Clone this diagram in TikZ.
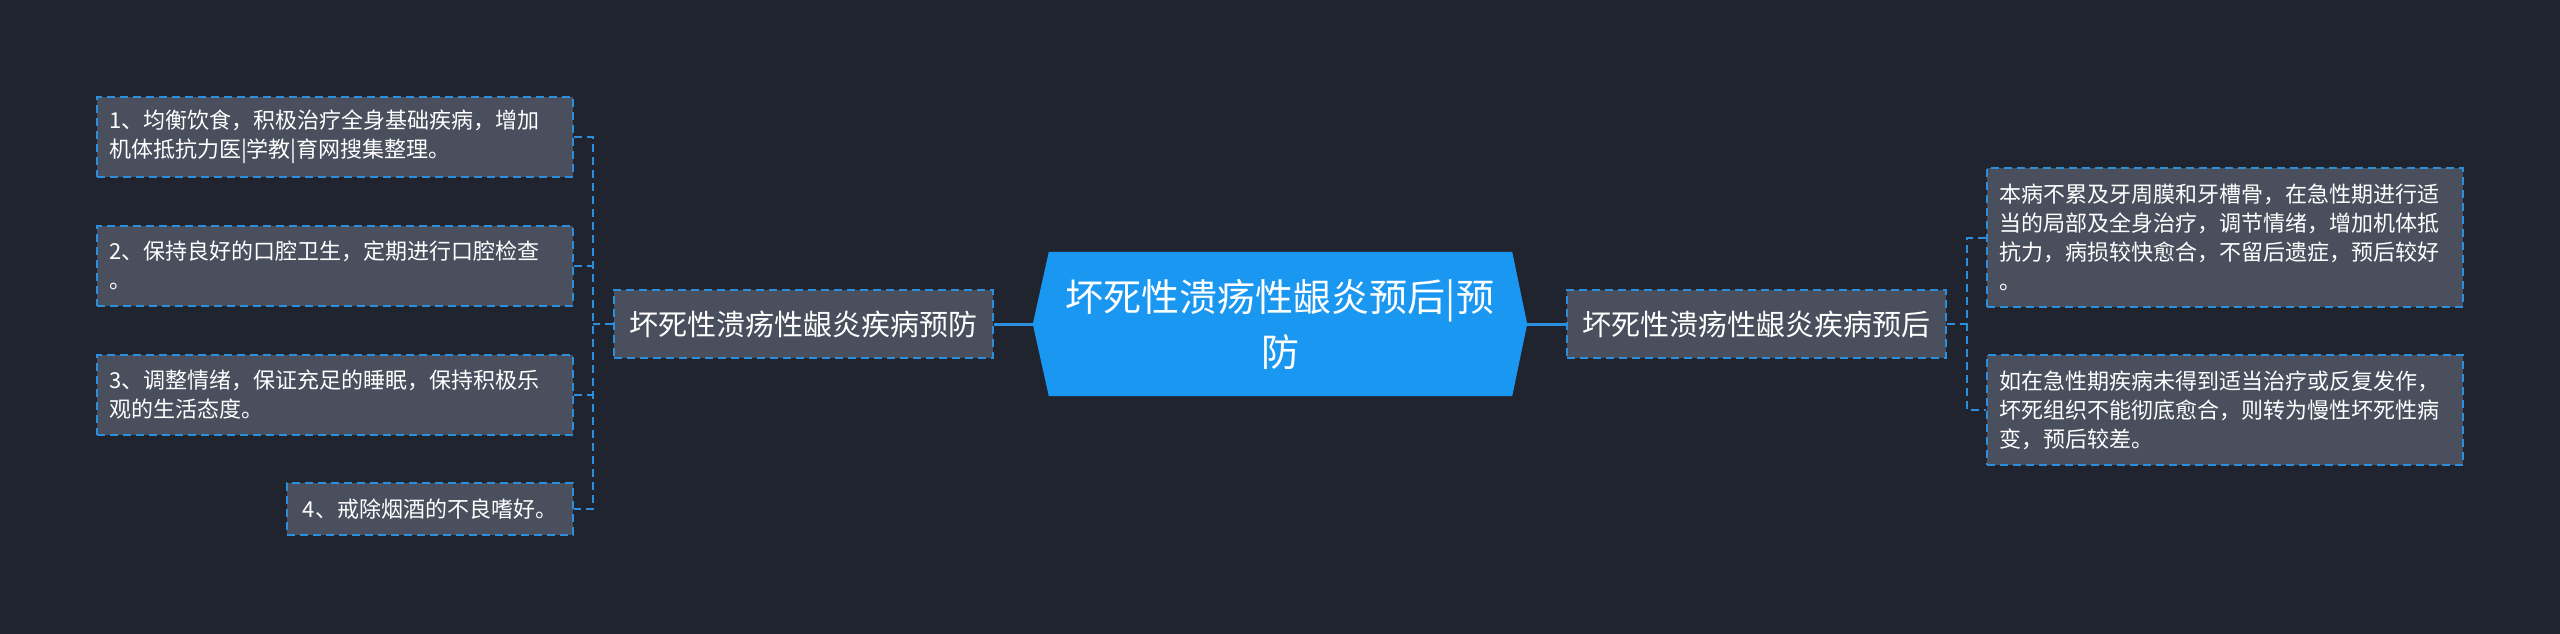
\documentclass[tikz,border=0pt]{standalone}
\usepackage{fontspec}
\setmainfont{Noto Sans CJK SC}
\usetikzlibrary{calc,backgrounds}
\definecolor{bg}{HTML}{20242F}
\definecolor{boxfill}{HTML}{4A4F5E}
\definecolor{lineblue}{HTML}{2C8FDE}
\definecolor{centralblue}{HTML}{1A97F0}
\tikzset{
  leaf/.style={draw=lineblue, dash pattern=on 8pt off 5pt, line width=2pt, fill=boxfill,
    text=white, align=left, inner xsep=12pt, inner ysep=0pt,
    font=\fontsize{22}{29}\selectfont, anchor=center},
  mainbox/.style={draw=lineblue, dash pattern=on 8pt off 5pt, line width=2pt, fill=boxfill,
    text=white, inner sep=0pt, minimum width=379pt, minimum height=68pt,
    font=\fontsize{29}{34}\selectfont, anchor=center},
  dashcon/.style={draw=lineblue, dash pattern=on 8pt off 5pt, line width=2pt},
  solidcon/.style={draw=lineblue, line width=3pt},
}
\begin{document}
\begin{tikzpicture}[x=1pt,y=-1pt]
\useasboundingbox (0,0) rectangle (2560,633);
\begin{pgfonlayer}{background}
\fill[bg] (-2,-2) rectangle (2562,635);
\end{pgfonlayer}

% central
\node[text=white, align=center, inner sep=0pt, minimum width=494pt, minimum height=144pt,
  font=\fontsize{38}{55}\selectfont] (c) at (1280,324) {坏死性溃疡性龈炎预后|预\\防};
\begin{pgfonlayer}{background}
\fill[centralblue] (c.west) -- ($(c.north west)+(16,0)$) -- ($(c.north east)+(-15,0)$)
  -- (c.east) -- ($(c.south east)+(-15,0)$) -- ($(c.south west)+(16,0)$) -- cycle;
\end{pgfonlayer}

% main branches
\node[mainbox] (lm) at (803.5,324) {坏死性溃疡性龈炎疾病预防};
\node[mainbox] (rm) at (1756.5,324) {坏死性溃疡性龈炎疾病预后};

% left leaves
\node[leaf, minimum width=476pt, minimum height=80pt, text width=452pt] (l1) at (335,137)
  {1、均衡饮食，积极治疗全身基础疾病，增加\\机体抵抗力医|学教|育网搜集整理。};
\node[leaf, minimum width=476pt, minimum height=80pt, text width=452pt] (l2) at (335,265.5)
  {2、保持良好的口腔卫生，定期进行口腔检查\\。};
\node[leaf, minimum width=476pt, minimum height=80pt, text width=452pt] (l3) at (335,395)
  {3、调整情绪，保证充足的睡眠，保持积极乐\\观的生活态度。};
\node[leaf, minimum width=286pt, minimum height=52pt, inner xsep=11pt] (l4) at (430,509)
  {4、戒除烟酒的不良嗜好。};

% right leaves
\node[leaf, minimum width=476pt, minimum height=139pt, text width=452pt] (r1) at (2225,237.5)
  {本病不累及牙周膜和牙槽骨，在急性期进行适\\当的局部及全身治疗，调节情绪，增加机体抵\\抗力，病损较快愈合，不留后遗症，预后较好\\。};
\node[leaf, minimum width=476pt, minimum height=110pt, text width=452pt] (r2) at (2225,410)
  {如在急性期疾病未得到适当治疗或反复发作，\\坏死组织不能彻底愈合，则转为慢性坏死性病\\变，预后较差。};

% connectors centre to main
\draw[solidcon] (c.west) -- (lm.east);
\draw[solidcon] (c.east) -- (rm.west);

% left tree
\coordinate (lx) at (593,324);
\draw[dashcon] (lm.west) -- (lx);
\draw[dashcon] (l1.east) -- (l1.east -| lx) -- (l4.east -| lx) -- (l4.east);
\draw[dashcon] (l2.east) -- (l2.east -| lx);
\draw[dashcon] (l3.east) -- (l3.east -| lx);

% right tree
\coordinate (rx) at (1967,324);
\draw[dashcon] (rm.east) -- (rx);
\draw[dashcon] (r1.west) -- (r1.west -| rx) -- (r2.west -| rx) -- (r2.west);
\end{tikzpicture}
\end{document}
